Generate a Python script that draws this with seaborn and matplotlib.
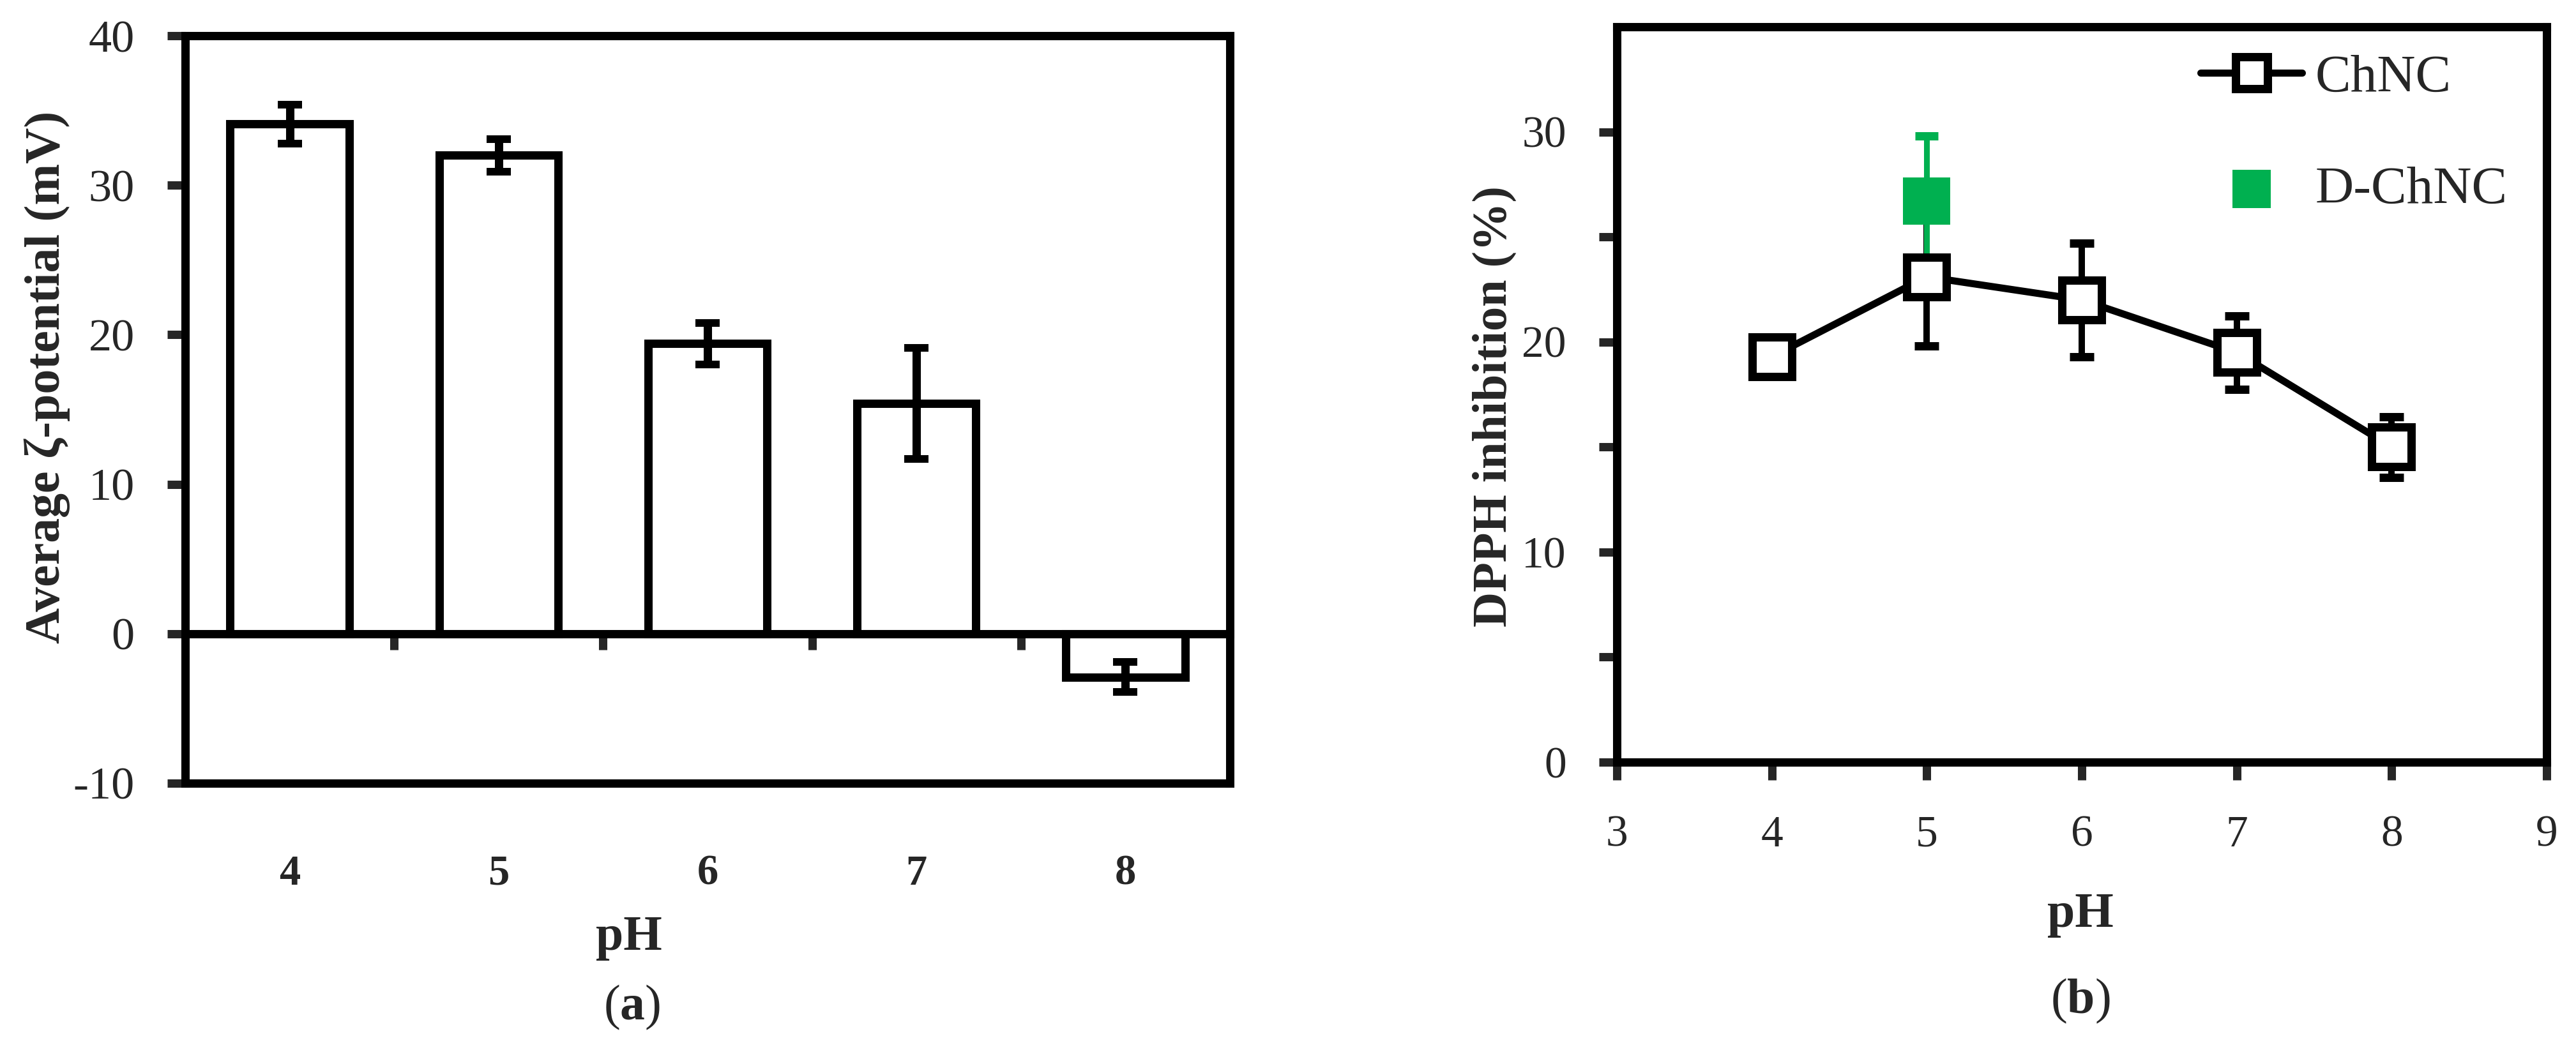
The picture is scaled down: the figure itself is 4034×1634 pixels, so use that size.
import matplotlib
matplotlib.use('Agg')
import matplotlib.pyplot as plt
import seaborn as sns

# Panel (a): zeta potential vs pH
ph_a = ['4', '5', '6', '7', '8']
zeta = [34.1, 32.0, 19.4, 15.4, -2.9]
zeta_err = [1.3, 1.1, 1.4, 3.7, 1.0]

# Panel (b): DPPH inhibition vs pH
ph_b = [4, 5, 6, 7, 8]
dpph_chnc = [19.3, 23.1, 22.0, 19.5, 15.0]
dpph_chnc_err = [0.5, 3.3, 2.7, 1.75, 1.45]
ph_d = [5]
dpph_dchnc = [26.7]
dpph_dchnc_err = [3.1]

green = '#00B050'

sns.set_style('white')
plt.rcParams['font.family'] = ['Liberation Serif', 'DejaVu Serif']
plt.rcParams['axes.unicode_minus'] = False
plt.rcParams['mathtext.fontset'] = 'custom'
plt.rcParams['mathtext.rm'] = 'Liberation Serif'
plt.rcParams['mathtext.bf'] = 'Liberation Serif:bold'

W, H = 4034, 1634
fig = plt.figure(figsize=(W / 100, H / 100), dpi=100)

def box(x0, x1, y0, y1):
    return [x0 / W, 1 - y1 / H, (x1 - x0) / W, (y1 - y0) / H]

lw = 9.4

# ---------------- (a) ----------------
ax1 = fig.add_axes(box(290, 1926, 56, 1227))
sns.barplot(x=ph_a, y=zeta, ax=ax1, width=0.57, color='white', saturation=1,
            edgecolor='black', linewidth=lw, errorbar=None, zorder=2)
ax1.errorbar(range(len(ph_a)), zeta, yerr=zeta_err, fmt='none', ecolor='black',
             elinewidth=lw, capsize=13.7, capthick=8.6, zorder=3)
ax1.set_xlim(-0.5, 4.5)
ax1.set_ylim(-10, 40)
ax1.set_yticks(range(-10, 41, 10))
for s in ax1.spines.values():
    s.set_linewidth(lw)
    s.set_color('black')
ax1.spines['bottom'].set_position(('data', 0))
ax1.axhline(-10, color='black', lw=lw, clip_on=False, zorder=4)
ax1.set_xticks([0.5, 1.5, 2.5, 3.5], labels=[])
ax1.set_xticks(range(len(ph_a)), labels=ph_a, minor=True)
ax1.tick_params(axis='x', which='major', direction='out', length=18, width=lw,
                bottom=True)
ax1.tick_params(axis='x', which='minor', length=0, pad=249, labelsize=48,
                bottom=True)
for t in ax1.get_xticklabels(minor=True):
    t.set_fontweight('bold')
ax1.tick_params(axis='y', direction='out', length=20, width=lw, pad=37,
                labelsize=52, left=True)
ax1.set_xlabel('')
ax1.set_ylabel('Average ζ-potential (mV)', fontsize=56, fontweight='bold')
ax1.yaxis.set_label_coords(-0.110, 0.543)
fig.text(985 / W, 1 - 1488 / H, 'pH', ha='center', va='baseline',
         fontsize=56, fontweight='bold')
fig.text(990 / W, 1 - 1597 / H, r'($\mathbf{a}$)', ha='center', va='baseline',
         fontsize=56)

# ---------------- (b) ----------------
ax2 = fig.add_axes(box(2532, 3988, 42, 1194))
ax2.errorbar(ph_b, dpph_chnc, yerr=dpph_chnc_err, fmt='none', ecolor='black',
             elinewidth=7.2, capsize=13.7, capthick=9.4, zorder=2)
ax2.errorbar(ph_d, dpph_dchnc, yerr=dpph_dchnc_err, fmt='none', ecolor=green,
             elinewidth=6.5, capsize=13.0, capthick=9.4, zorder=3)
sns.scatterplot(x=ph_d, y=dpph_dchnc, ax=ax2, marker='s', s=2900, color=green,
                linewidth=0, label='D-ChNC', zorder=4)
sns.lineplot(x=ph_b, y=dpph_chnc, ax=ax2, color='black', lw=8, marker='s',
             markersize=45, markerfacecolor='white', markeredgecolor='black',
             markeredgewidth=9.4, label='ChNC', zorder=5)
ax2.set_xlim(3, 9)
ax2.set_ylim(0, 35)
ax2.set_xticks(range(3, 10))
ax2.set_yticks([0, 10, 20, 30])
ax2.set_yticks([5, 15, 25], minor=True)
for s in ax2.spines.values():
    s.set_linewidth(lw)
    s.set_color('black')
ax2.tick_params(axis='both', which='both', direction='out', length=20, width=lw,
                labelsize=50, bottom=True, left=True)
ax2.tick_params(axis='x', pad=40)
ax2.tick_params(axis='y', pad=37)
ax2.set_ylabel('DPPH inhibition (%)', fontsize=55, fontweight='bold')
ax2.yaxis.set_label_coords(-0.108, 0.484)
fig.text(3258 / W, 1 - 1452 / H, 'pH', ha='center', va='baseline',
         fontsize=56, fontweight='bold')
fig.text(3258 / W, 1 - 1587 / H, r'($\mathbf{b}$)', ha='center', va='baseline',
         fontsize=56)

handles, labels = ax2.get_legend_handles_labels()
order = [labels.index('ChNC'), labels.index('D-ChNC')]
ax2.legend([handles[i] for i in order], [labels[i] for i in order],
           loc='upper left', bbox_to_anchor=(0.628, 0.963), frameon=False,
           fontsize=60, handlelength=1.9, handletextpad=0.25, labelspacing=1.18,
           markerscale=0.8, borderpad=0, borderaxespad=0)

fig.savefig('out.png', dpi=100)
